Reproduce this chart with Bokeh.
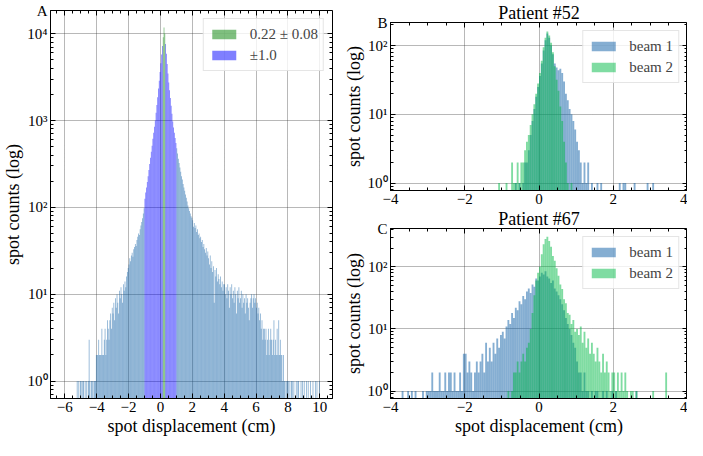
import numpy as np
from bokeh.plotting import figure
from bokeh.models import (FixedTicker, LinearAxis, LogAxis, Legend, LegendItem,
                          ColumnDataSource, Range1d, CustomJSTickFormatter)
from bokeh.layouts import row, column
from bokeh.embed import file_html
from bokeh.resources import INLINE

FONT = "Liberation Serif"

# ---------------- data (histogram bin counts) ----------------
A_START = -6.0
A_WIDTH = 0.05
A_COUNTS = [
    0, 0, 0, 0, 0, 0, 0, 0, 0, 0, 0, 0, 0, 0, 0, 1, 0, 1, 0, 1,                 # -6 .. -5
    1, 0, 1, 1, 0, 1, 0, 1, 0, 1, 3, 1, 0, 1, 1, 0, 1, 1, 1, 2,                 # -5 .. -4
    2, 2, 3, 2, 2, 2, 4, 2, 2, 3, 4, 2, 3, 5, 4, 3, 5, 6, 4, 7,                 # -4 .. -3
    6, 8, 5, 9, 7, 10, 8, 6, 11, 9, 12, 10, 8, 13, 11, 14, 12, 16, 18, 20,      # -3 .. -2
    22, 26, 24, 28, 30, 27, 33, 35, 38, 36, 42, 46, 50, 48, 56, 62, 68, 75, 85, 98,   # -2 .. -1
    126, 148, 170, 196, 229, 269, 316, 372, 437, 513,
    617, 724, 851, 1000, 1230, 1510, 1860, 2340, 2880, 3630,                    # -1 .. 0
    4570, 5750, 7240, 9120, 11750, 10000, 7590, 5890, 4470, 3470,
    2750, 2240, 1820, 1480, 1200, 977, 832, 724, 631, 550,                      # 0 .. 1
    479, 417, 363, 324, 288, 257, 229, 209, 186, 170,
    155, 141, 129, 117, 105, 98, 91, 85, 79, 76,                                # 1 .. 2
    71, 60, 66, 58, 62, 52, 56, 48, 50, 44, 46, 40, 42, 35, 38, 33, 30, 34, 28, 31,   # 2 .. 3
    26, 22, 28, 20, 24, 18, 21, 8, 19, 16, 20, 14, 17, 15, 13, 16, 12, 14, 11, 13,   # 3 .. 4
    13, 10, 12, 9, 13, 11, 7, 12, 10, 13, 9, 11, 8, 12, 10, 6, 11, 9, 12, 8,   # 4 .. 5
    9, 11, 7, 10, 8, 9, 6, 10, 8, 9, 7, 5, 8, 9, 10, 7, 9, 10, 8, 9,           # 5 .. 6
    7, 8, 6, 7, 5, 6, 4, 5, 3, 4, 4, 3, 4, 2, 3, 4, 2, 3, 4, 3,                # 6 .. 7
    2, 3, 5, 2, 3, 2, 4, 2, 5, 2, 3, 2, 2, 1, 2, 1, 1, 0, 1, 1,                # 7 .. 8
    1, 0, 1, 0, 1, 1, 0, 1, 0, 0, 1, 0, 1, 1, 0, 0, 1, 0, 1, 0,                # 8 .. 9
    1, 0, 0, 1, 0, 1, 0, 0, 1, 0, 0, 1, 0, 0, 1, 0, 1, 0, 0, 1,                # 9 .. 10
]
A_GREEN_BAND = (0.14, 0.30)     # 0.22 +/- 0.08
A_BLUE_BAND = (-1.0, 1.0)       # +/- 1.0
A_LEGEND = ["0.22 ± 0.08", "±1.0"]

B_START = -1.2
B_WIDTH = 0.05
B_BEAM1 = [
    0, 0, 0, 0, 0, 0, 0, 0, 0, 0, 0, 1, 0, 1, 0, 1, 2, 2, 3, 5,
    8, 12, 18, 25, 36, 55, 85, 120, 150, 130, 100, 75, 55, 48, 44, 46, 40, 30, 20, 16,
    12, 10, 8, 6, 4, 3, 2, 1, 2, 1, 2, 0, 1, 0, 0, 1, 0, 1, 0, 0,
    0, 0, 0, 0, 0, 0, 0, 1, 0, 1, 1, 0, 0, 0, 0, 1, 0, 0, 0, 0, 0, 0, 1, 0, 0, 1, 0, 0,
]
B_BEAM2 = [
    0, 0, 1, 0, 0, 0, 1, 0, 0, 2, 1, 1, 2, 1, 2, 2, 3, 4, 5, 7,
    10, 14, 20, 28, 40, 60, 95, 130, 160, 140, 110, 80, 50, 32, 22, 13, 8, 4, 2, 1,
    0, 1,
]

C1_START = -4.0
C2_START = -1.0
C_WIDTH = 0.05
C_BEAM1 = [
    0, 0, 0, 0, 0, 0, 1, 0, 0, 1, 0, 1, 0, 1, 0, 0, 0, 1, 0, 1,
    1, 1, 2, 1, 1, 1, 2, 1, 1, 2, 1, 2, 2, 1, 2, 1, 1, 2, 1, 4,
    4, 2, 3, 2, 1, 2, 3, 2, 3, 4, 2, 6, 3, 5, 3, 6, 4, 7, 5, 8,
    9, 7, 11, 14, 12, 18, 15, 22, 20, 28, 25, 34, 30, 40, 45, 38, 52, 48, 65, 60,
    70, 80, 75, 85, 70, 65, 55, 60, 45, 40, 35, 30, 25, 20, 15, 12, 10, 8, 6, 5,
    3, 2, 2, 1, 2, 1, 1, 0, 1, 0, 1, 1, 0, 0, 1, 0, 1, 0, 0, 1,
    0, 1, 0, 0, 0, 0, 0, 0, 0, 0, 0, 0, 1, 0, 0, 0, 0, 0, 0, 0,
]
C_BEAM2 = [
    0, 0, 0, 1, 0, 1, 2, 2, 3, 2, 3, 4, 3, 5, 6, 10, 18, 35, 60, 80,
    100, 160, 230, 280, 305, 260, 210, 150, 125, 95, 72, 52, 44, 30, 26, 18, 17, 12, 14, 9,
    10, 8, 11, 6, 9, 5, 7, 4, 6, 4, 3, 5, 3, 2, 4, 2, 3, 2, 1, 2,
    2, 1, 2, 1, 2, 1, 2, 1, 0, 1, 1, 0, 1, 0, 0, 0, 0, 0, 0, 0,
    0, 1, 0, 0, 0, 0, 0, 0, 2, 0, 0, 0, 0, 0, 0, 0, 0, 0, 0, 0,
]
BEAM_LABELS = ["beam 1", "beam 2"]
TITLES = ["Patient #52", "Patient #67"]
PANEL_LETTERS = ["A", "B", "C"]

X_TICKS_A = [-6, -4, -2, 0, 2, 4, 6, 8, 10]
X_TICKS_BC = [-4, -2, 0, 2, 4]
Y_TICKS = [1, 10, 100, 1000, 10000]
Y_TICK_LABELS = ["10⁰", "10¹", "10²", "10³", "10⁴"]
X_LABEL = "spot displacement (cm)"
Y_LABEL = "spot counts (log)"

STEEL = "#0C5DA5"
BEAM2_GREEN = "#00B945"
BAND_GREEN = "#008000"
BAND_BLUE = "#0000FF"


def minus(v):
    return ("−" + str(abs(v))) if v < 0 else str(v)


def bars(p, start, width, counts, keep=None, **kw):
    c = np.asarray(counts, dtype=float)
    left = start + width * np.arange(len(c))
    centre = left + width / 2
    m = c > 0
    if keep is not None:
        m &= keep(centre)
    src = ColumnDataSource(dict(left=left[m], right=left[m] + width, top=c[m],
                                bottom=np.full(int(m.sum()), 1e-3)))
    return p.quad(left="left", right="right", top="top", bottom="bottom", source=src,
                  line_color=None, **kw)


def style_axis(ax):
    ax.major_tick_in = 5
    ax.major_tick_out = 0
    ax.minor_tick_in = 3
    ax.minor_tick_out = 0
    ax.major_tick_line_color = "black"
    ax.minor_tick_line_color = "black"
    ax.axis_line_color = "black"
    ax.major_label_text_font = FONT
    ax.major_label_text_font_size = "15px"
    ax.major_label_text_font_style = "normal"
    ax.major_label_text_color = "black"
    ax.major_label_standoff = 3
    ax.axis_label_text_font = FONT
    ax.axis_label_text_font_size = "18px"
    ax.axis_label_text_font_style = "normal"
    ax.axis_label_text_color = "black"
    ax.axis_label_standoff = 1


def make_fig(width, height, xr, yr, xticks, ylabel, xlabel, borders, letter):
    p = figure(width=width, height=height, x_range=Range1d(*xr), y_range=Range1d(*yr),
               y_axis_type="log", output_backend="svg", toolbar_location=None,
               min_border_left=borders[0], min_border_right=borders[1],
               min_border_top=borders[2], min_border_bottom=borders[3])
    bottom = p.below[0]
    left = p.left[0]
    xminor = list(np.arange(xticks[0] - 1.0, xticks[-1] + 1.01, 0.5))
    xt = FixedTicker(ticks=xticks, minor_ticks=xminor)
    yminor = [m * 10.0 ** e for e in range(-1, 5) for m in range(2, 10)]
    y_top = yr[1] * 0.999          # panel letter sits at the top-left corner
    yt_labels = FixedTicker(ticks=Y_TICKS + [y_top], minor_ticks=yminor)
    yt = FixedTicker(ticks=Y_TICKS, minor_ticks=yminor)
    bottom.ticker = xt
    left.ticker = yt_labels
    bottom.major_label_overrides = {v: minus(v) for v in xticks}
    ov = {v: s for v, s in zip(Y_TICKS, Y_TICK_LABELS)}
    ov[y_top] = letter
    left.major_label_overrides = ov
    if xlabel:
        bottom.axis_label = xlabel
    left.axis_label = ylabel
    empty = CustomJSTickFormatter(code="return ''")
    # mirrored tick marks on top / right, pinned to the frame edges
    top = LinearAxis(ticker=xt, formatter=empty, fixed_location=yr[1])
    right = LogAxis(ticker=yt, formatter=empty, fixed_location=xr[1])
    p.add_layout(top, "above")
    p.add_layout(right, "right")
    for ax in [bottom, left, top, right]:
        style_axis(ax)
    for ax in [top, right]:
        ax.major_label_text_font_size = "0px"
        ax.major_label_standoff = 0
    p.xgrid.ticker = xt
    p.ygrid.ticker = yt
    p.outline_line_color = "black"
    p.outline_line_width = 1
    for g in (p.xgrid, p.ygrid):
        g.grid_line_color = "#333333"
        g.grid_line_alpha = 0.7
        g.grid_line_dash = "1 1"
        g.grid_line_width = 1
    p.background_fill_color = "white"
    p.border_fill_color = "white"
    return p


def style_legend(p, items):
    leg = Legend(items=items, location="top_right", margin=8, padding=5, spacing=1,
                 glyph_width=30, glyph_height=12, label_standoff=11,
                 label_text_font=FONT, label_text_font_size="15px",
                 label_height=20, border_line_color="#cccccc", border_line_width=1,
                 background_fill_color="white", background_fill_alpha=0.8)
    p.add_layout(leg)


def set_title(p, text):
    p.title.text = text
    p.title.align = "center"
    p.title.text_font = FONT
    p.title.text_font_size = "18px"
    p.title.text_font_style = "normal"
    p.title.text_color = "black"
    p.title.standoff = 0


# ---------------- panel A ----------------
XR_A = (-6.9, 10.8)
YR_A = (0.63, 18500)
pa = make_fig(340, 438, XR_A, YR_A, X_TICKS_A, Y_LABEL, X_LABEL, (0, 8, 10, 0),
              PANEL_LETTERS[0])

lo_b, hi_b = A_BLUE_BAND
lo_g, hi_g = A_GREEN_BAND
in_green = lambda c: (c >= lo_g) & (c <= hi_g)
in_blue = lambda c: (c >= lo_b) & (c <= hi_b) & ~((c >= lo_g) & (c <= hi_g))
outside = lambda c: (c < lo_b) | (c > hi_b)
bars(pa, A_START, A_WIDTH, A_COUNTS, keep=outside, fill_color=STEEL, fill_alpha=0.5)
rb = bars(pa, A_START, A_WIDTH, A_COUNTS, keep=in_blue, fill_color=BAND_BLUE, fill_alpha=0.5)
rg = bars(pa, A_START, A_WIDTH, A_COUNTS, keep=in_green, fill_color=BAND_GREEN, fill_alpha=0.5)
style_legend(pa, [LegendItem(label=A_LEGEND[0], renderers=[rg]),
                  LegendItem(label=A_LEGEND[1], renderers=[rb])])

# ---------------- panel B ----------------
XR_BC = (-4, 4)
YR_B = (0.78, 217)
pb = make_fig(347, 206, XR_BC, YR_B, X_TICKS_BC, Y_LABEL, None, (50, 0, 0, 0),
              PANEL_LETTERS[1])
b1 = bars(pb, B_START, B_WIDTH, B_BEAM1, fill_color=STEEL, fill_alpha=0.5)
b2 = bars(pb, B_START, B_WIDTH, B_BEAM2, fill_color=BEAM2_GREEN, fill_alpha=0.5)
style_legend(pb, [LegendItem(label=BEAM_LABELS[0], renderers=[b1]),
                  LegendItem(label=BEAM_LABELS[1], renderers=[b2])])
set_title(pb, TITLES[0])

# ---------------- panel C ----------------
YR_C = (0.76, 414)
pc = make_fig(347, 232, XR_BC, YR_C, X_TICKS_BC, Y_LABEL, X_LABEL, (50, 0, 0, 0),
              PANEL_LETTERS[2])
c1 = bars(pc, C1_START, C_WIDTH, C_BEAM1, fill_color=STEEL, fill_alpha=0.5)
c2 = bars(pc, C2_START, C_WIDTH, C_BEAM2, fill_color=BEAM2_GREEN, fill_alpha=0.5)
style_legend(pc, [LegendItem(label=BEAM_LABELS[0], renderers=[c1]),
                  LegendItem(label=BEAM_LABELS[1], renderers=[c2])])
set_title(pc, TITLES[1])

layout = row(pa, column(pb, pc))
open("out.html", "w").write(file_html(layout, INLINE))
